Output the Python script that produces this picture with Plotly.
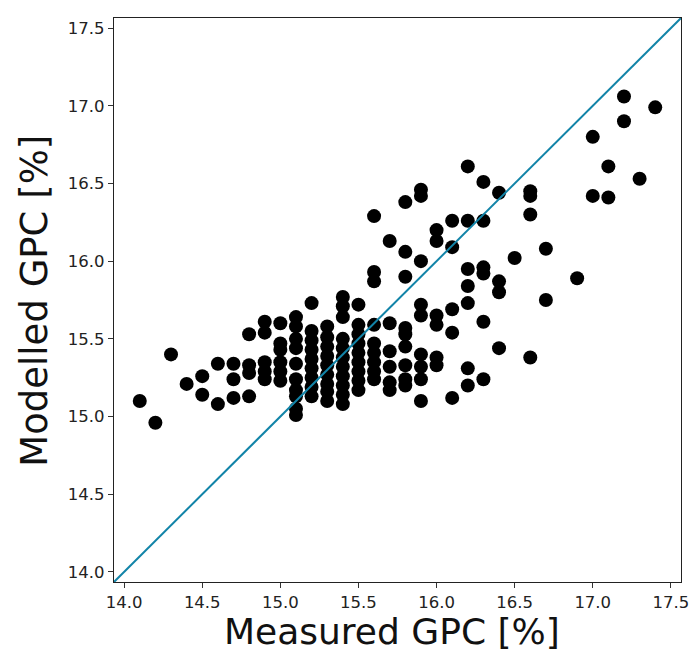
import plotly.graph_objects as go

# Measured GPC (x) grouped per column, with modelled GPC (y) values
measured_gpc = (
    [14.1] + [14.2] + [14.3] + [14.4] + [14.5] * 2 + [14.6] * 2 + [14.7] * 3 + [14.8] * 4
    + [14.9] * 5 + [15.0] * 6 + [15.1] * 10 + [15.2] * 9 + [15.3] * 9 + [15.4] * 11
    + [15.5] * 9 + [15.6] * 9 + [15.7] * 6 + [15.8] * 9 + [15.9] * 9 + [16.0] * 6
    + [16.1] * 5 + [16.2] * 7 + [16.3] * 6 + [16.4] * 4 + [16.5] + [16.6] * 4
    + [16.7] * 2 + [16.9] + [17.0] * 2 + [17.1] * 2 + [17.2] * 2 + [17.3] + [17.4]
)

modelled_gpc = [
    15.10,
    14.96,
    15.40,
    15.21,
    15.26, 15.14,
    15.34, 15.08,
    15.34, 15.24, 15.12,
    15.53, 15.33, 15.28, 15.13,
    15.61, 15.54, 15.35, 15.29, 15.24,
    15.60, 15.47, 15.43, 15.35, 15.29, 15.23,
    15.64, 15.58, 15.50, 15.44, 15.34, 15.24, 15.17, 15.13, 15.05, 15.01,
    15.73, 15.55, 15.49, 15.43, 15.37, 15.31, 15.25, 15.19, 15.13,
    15.58, 15.51, 15.45, 15.39, 15.33, 15.27, 15.21, 15.16, 15.10,
    15.77, 15.71, 15.64, 15.50, 15.44, 15.38, 15.32, 15.26, 15.20, 15.14, 15.08,
    15.72, 15.59, 15.53, 15.47, 15.41, 15.35, 15.29, 15.23, 15.17,
    16.29, 15.93, 15.87, 15.59, 15.47, 15.41, 15.35, 15.29, 15.24,
    16.13, 15.60, 15.42, 15.32, 15.22, 15.17,
    16.38, 16.06, 15.90, 15.57, 15.53, 15.45, 15.33, 15.24, 15.20,
    16.46, 16.42, 16.00, 15.72, 15.65, 15.40, 15.32, 15.24, 15.10,
    16.20, 16.13, 15.65, 15.59, 15.38, 15.33,
    16.26, 16.09, 15.69, 15.54, 15.12,
    16.61, 16.26, 15.95, 15.84, 15.73, 15.31, 15.20,
    16.51, 16.26, 15.96, 15.92, 15.61, 15.24,
    16.44, 15.87, 15.80, 15.44,
    16.02,
    16.45, 16.42, 16.30, 15.38,
    16.08, 15.75,
    15.89,
    16.80, 16.42,
    16.61, 16.41,
    17.06, 16.90,
    16.53,
    16.99,
]

tick_vals = [14.0, 14.5, 15.0, 15.5, 16.0, 16.5, 17.0, 17.5]
tick_text = ["14.0", "14.5", "15.0", "15.5", "16.0", "16.5", "17.0", "17.5"]
axis_range = [13.935, 17.565]

fig = go.Figure()
fig.add_trace(go.Scatter(
    x=measured_gpc, y=modelled_gpc, mode="markers",
    marker=dict(color="black", size=14, line=dict(width=0)),
    showlegend=False, cliponaxis=False,
))
fig.add_trace(go.Scatter(
    x=axis_range, y=axis_range, mode="lines",
    line=dict(color="#1284a8", width=2), showlegend=False,
))

tick_font = dict(family="DejaVu Sans", size=16.5, color="#222222")
common = dict(
    range=axis_range, tickvals=tick_vals, ticktext=tick_text,
    ticks="outside", ticklen=5, tickwidth=1, tickcolor="#333333",
    showline=True, linecolor="#222222", linewidth=1.2, mirror=True,
    showgrid=False, zeroline=False, tickfont=tick_font, automargin=False,
    ticklabeloverflow="allow",
)
fig.update_xaxes(**common)
fig.update_yaxes(**common)

fig.update_layout(
    width=689, height=653,
    margin=dict(l=114, r=8, t=18, b=71),
    paper_bgcolor="white", plot_bgcolor="white",
    annotations=[
        dict(text="Measured GPC [%]", xref="paper", yref="paper", x=0.49, y=-0.088,
             xanchor="center", yanchor="middle", showarrow=False,
             font=dict(family="DejaVu Sans", size=36, color="#111111")),
        dict(text="Modelled GPC [%]", xref="paper", yref="paper", x=-0.14, y=0.498,
             xanchor="center", yanchor="middle", showarrow=False, textangle=-90,
             font=dict(family="DejaVu Sans", size=37, color="#111111")),
    ],
)

fig.write_html("out.html")
